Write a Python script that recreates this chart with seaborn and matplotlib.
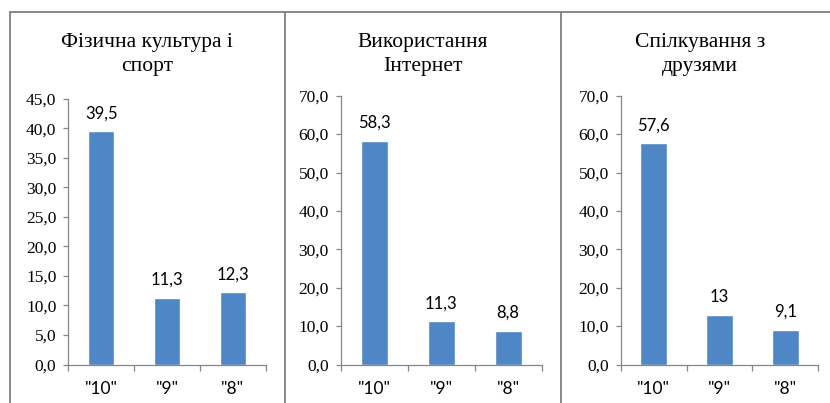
import numpy as np
import pandas as pd
import seaborn as sns
import matplotlib.pyplot as plt
from matplotlib.lines import Line2D
from matplotlib.ticker import FixedLocator, FuncFormatter

grades = ['"10"', '"9"', '"8"']
sport = [39.5, 11.3, 12.3]
internet = [58.3, 11.3, 8.8]
friends = [57.6, 13, 9.1]
titles = [["Фізична культура і", "спорт"],
          ["Використання", "Інтернет"],
          ["Спілкування з", "друзями"]]
ymax = [45, 70, 70]
ystep = [5, 10, 10]

BAR = "#4F86C6"
AXIS = "#868686"
FRAME = "#7F7F7F"
SERIF = ["Liberation Serif", "DejaVu Serif"]
SANS = ["Lato", "DejaVu Sans"]
W, H = 830, 403

sns.set_theme(style="white")
plt.rcParams["font.family"] = SERIF

fig = plt.figure(figsize=(W / 100, H / 100), dpi=100)


def px(x0, y0, x1, y1):
    return [x0 / W, 1 - y1 / H, (x1 - x0) / W, (y1 - y0) / H]


boxes = [px(68.3, 98.7, 265.7, 364.5),
         px(340.7, 95.7, 541.7, 364.5),
         px(620.7, 95.7, 818.3, 364.5)]
panels = [(9.5, 285), (285, 561), (561, 839)]

# panel frames
fig.add_artist(Line2D([9.5 / W, 1], [1 - 12 / H] * 2, color=FRAME, lw=1.3))
for x0, x1 in panels:
    fig.add_artist(Line2D([x0 / W] * 2, [1 - 12 / H, 0], color=FRAME, lw=1.3))

series = [sport, internet, friends]
for i, vals in enumerate(series):
    ax = fig.add_axes(boxes[i])
    df = pd.DataFrame({"grade": grades, "share": vals})
    sns.barplot(data=df, x="grade", y="share", color=BAR, saturation=1,
                width=0.4, ax=ax)
    ax.set_xlim(-0.5, 2.5)
    ax.set_ylim(0, ymax[i])
    ax.set_yticks(np.arange(0, ymax[i] + 0.1, ystep[i]))
    ax.yaxis.set_major_formatter(FuncFormatter(lambda v, p: f"{v:.1f}".replace(".", ",")))
    ax.xaxis.set_minor_locator(FixedLocator([-0.5, 0.5, 1.5, 2.5]))
    ax.set_xlabel("")
    ax.set_ylabel("")

    ax.tick_params(axis="x", which="major", length=0, pad=12, labelsize=12.5,
                   labelfontfamily=SANS, colors="black")
    ax.tick_params(axis="x", which="minor", bottom=True, length=4, width=0.9,
                   color=AXIS)
    ax.tick_params(axis="y", left=True, length=3.5, width=0.9, color=AXIS, pad=5,
                   labelsize=12.5, labelcolor="black", labelfontfamily=SERIF)

    sns.despine(ax=ax)
    for side in ["left", "bottom"]:
        ax.spines[side].set_color(AXIS)
        ax.spines[side].set_linewidth(0.9)

    labels = [f"{v:g}".replace(".", ",") for v in vals]
    ax.bar_label(ax.containers[0], labels=labels, padding=7, fontsize=12,
                 fontfamily=SANS, color="black")

    x0, x1 = panels[i]
    for line, base in zip(titles[i], [46.7, 70.5]):
        fig.text((x0 + x1) / 2 / W, 1 - base / H, line, ha="center",
                 va="baseline", fontsize=15.5, fontfamily=SERIF, color="black")

fig.savefig("out.png", dpi=100)
